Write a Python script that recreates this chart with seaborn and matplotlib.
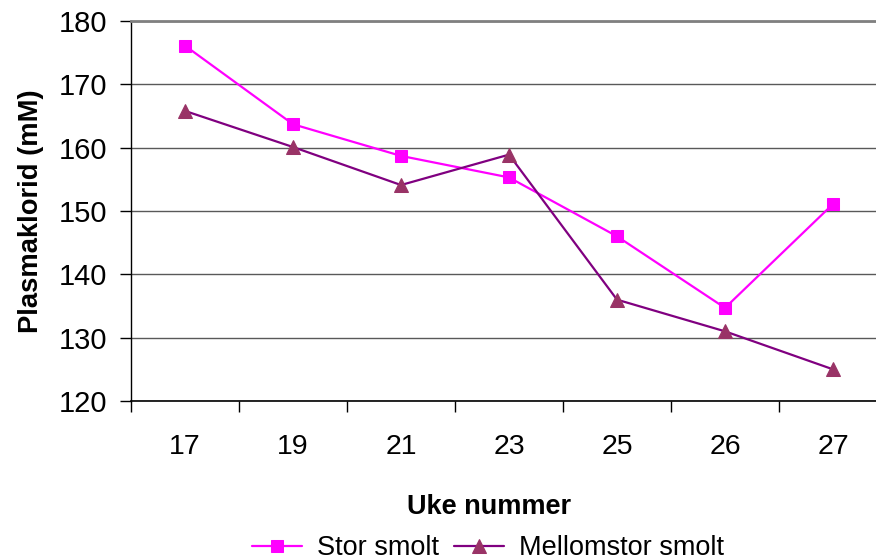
import matplotlib
matplotlib.use("Agg")
import matplotlib.pyplot as plt
import seaborn as sns
import pandas as pd

weeks = ["17", "19", "21", "23", "25", "26", "27"]
stor_smolt = [176.1, 163.7, 158.7, 155.3, 146.0, 134.7, 151.1]
mellomstor_smolt = [165.8, 160.1, 154.1, 158.9, 136.0, 131.0, 125.0]

sns.set_theme(style="white")
plt.rcParams["font.family"] = ["Liberation Sans", "DejaVu Sans"]
plt.rcParams["text.color"] = "black"
plt.rcParams["axes.labelcolor"] = "black"
plt.rcParams["xtick.color"] = "black"
plt.rcParams["ytick.color"] = "black"

pos = list(range(len(weeks)))
df_stor = pd.DataFrame({"pos": pos, "val": stor_smolt})
df_mell = pd.DataFrame({"pos": pos, "val": mellomstor_smolt})

fig = plt.figure(figsize=(8.76, 5.6), dpi=100)
ax = fig.add_axes([131 / 876, 1 - 401 / 560, 756 / 876, 380 / 560])

sns.lineplot(data=df_stor, x="pos", y="val", ax=ax, color="#FF00FF",
             marker="s", markersize=8, markerfacecolor="#FF00FF",
             markeredgecolor="#FF00FF", linewidth=1.6, label="Stor smolt")
sns.lineplot(data=df_mell, x="pos", y="val", ax=ax, color="#800080",
             marker="^", markersize=10, markerfacecolor="#993366",
             markeredgecolor="#993366", linewidth=1.6,
             label="Mellomstor smolt")

ax.set_ylim(120, 180)
ax.set_yticks(range(120, 181, 10))
ax.set_xlim(-0.5, len(weeks) - 0.5)
ax.set_xticks(pos)
ax.set_xticklabels(weeks)
# category separators on the x axis
ax.set_xticks([p - 0.5 for p in pos], minor=True)
ax.tick_params(axis="x", which="major", length=0, pad=24, labelsize=20.5)
ax.tick_params(axis="x", which="minor", length=8, width=1, color="#000000",
               direction="out", bottom=True)
ax.tick_params(axis="y", which="major", length=8, width=1, color="#000000",
               direction="out", left=True, labelsize=21, pad=9)

ax.yaxis.grid(True, color="#595959", linewidth=1)
ax.xaxis.grid(False)
ax.set_axisbelow(True)

ax.spines["right"].set_visible(False)
ax.spines["top"].set_color("#808080")
ax.spines["top"].set_linewidth(2)
ax.spines["left"].set_color("#000000")
ax.spines["left"].set_linewidth(1)
ax.spines["bottom"].set_color("#000000")
ax.spines["bottom"].set_linewidth(1.2)

ax.set_ylabel("Plasmaklorid (mM)", fontsize=19.7, fontweight="bold")
ax.yaxis.set_label_coords(-(131 - 44) / 756, (401 - 211) / 380)
ax.set_xlabel("Uke nummer", fontsize=19.5, fontweight="bold")
ax.xaxis.set_label_coords((489 - 131) / 756, -(494 - 401) / 380)

leg = ax.legend(loc="center", bbox_to_anchor=(488 / 876, 1 - 548 / 560),
                bbox_transform=fig.transFigure, ncol=2, frameon=False,
                fontsize=19.5, handlelength=1.85, handletextpad=0.55,
                columnspacing=0.55, borderaxespad=0, borderpad=0)

fig.savefig("out.png", dpi=100)
